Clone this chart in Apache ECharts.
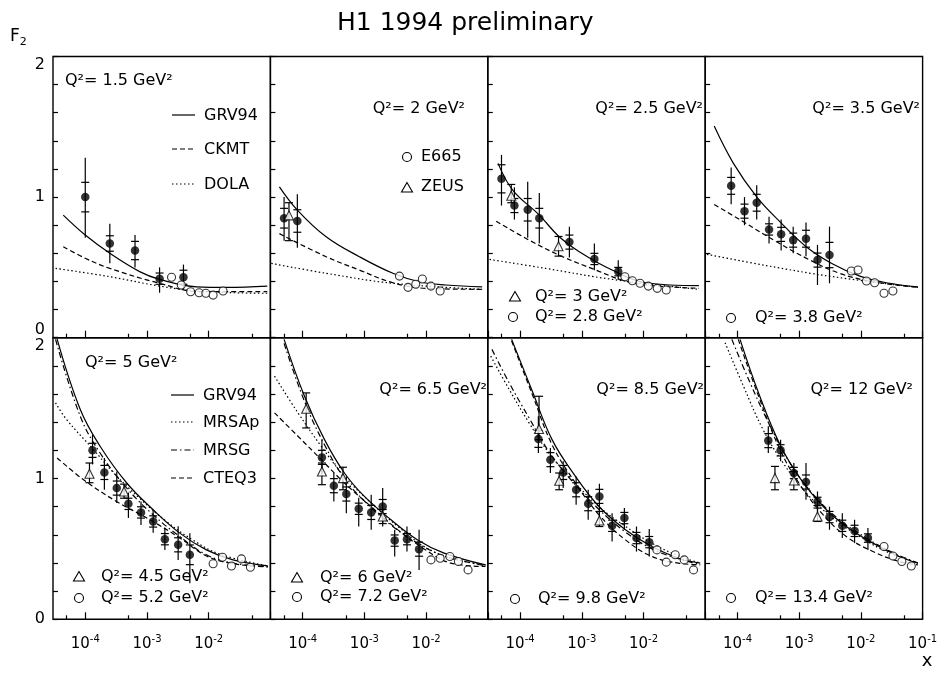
<!DOCTYPE html>
<html>
<head>
<meta charset="utf-8">
<title>H1 1994 preliminary</title>
<script src="https://cdn.jsdelivr.net/npm/echarts@6/dist/echarts.min.js"></script>
<style>
  html, body { margin: 0; padding: 0; background: #fff; }
  #chart { width: 952px; height: 679px; }
</style>
</head>
<body>
<div id="chart"></div>
<script>
// ---- axis ticks ----
const decadeTicks = [1e-4, 1e-3, 1e-2, 1e-1];
const halfTicks = [5e-5, 5e-4, 5e-3, 5e-2];
const yLabelValues = [0, 1, 2];

// ---- panel labels ----
const q2Main = ['1.5', '2', '2.5', '3.5', '5', '6.5', '8.5', '12'];

// H1 points: [x, F2, lower end of total error, upper end, stat error]
const h1P1 = [[1.0e-4, 1.00, 0.71, 1.28, 0.105], [2.5e-4, 0.67, 0.53, 0.81, 0.055], [6.4e-4, 0.62, 0.50, 0.73, 0.065],
  [1.6e-3, 0.42, 0.32, 0.50, 0.04], [3.9e-3, 0.43, 0.34, 0.52, 0.05]];
const h1P2 = [[5.0e-5, 0.85, 0.69, 1.00, 0.07], [8.2e-5, 0.83, 0.64, 1.02, 0.08]];
const h1P3 = [[5.0e-5, 1.13, 0.94, 1.30, 0.10], [8.1e-5, 0.94, 0.84, 1.07, 0.05], [1.33e-4, 0.91, 0.71, 1.11, 0.08],
  [2.05e-4, 0.85, 0.67, 1.03, 0.07], [6.3e-4, 0.68, 0.57, 0.79, 0.05], [1.6e-3, 0.56, 0.48, 0.67, 0.04],
  [3.9e-3, 0.47, 0.41, 0.55, 0.03]];
const h1P4 = [[7.9e-5, 1.08, 0.95, 1.21, 0.06], [1.3e-4, 0.90, 0.80, 1.00, 0.05], [2.05e-4, 0.96, 0.84, 1.085, 0.06],
  [3.25e-4, 0.77, 0.67, 0.86, 0.04], [5.1e-4, 0.735, 0.62, 0.84, 0.05], [8.0e-4, 0.694, 0.60, 0.79, 0.05],
  [1.29e-3, 0.704, 0.58, 0.82, 0.06], [1.98e-3, 0.552, 0.375, 0.66, 0.05], [3.1e-3, 0.588, 0.387, 0.79, 0.09]];
const h1P5 = [[1.31e-4, 1.20, 1.10, 1.31, 0.05], [2.04e-4, 1.043, 0.92, 1.146, 0.05], [3.24e-4, 0.932, 0.826, 1.05, 0.05],
  [5.0e-4, 0.82, 0.72, 0.90, 0.04], [8.0e-4, 0.759, 0.67, 0.837, 0.04], [1.26e-3, 0.695, 0.614, 0.778, 0.04],
  [1.95e-3, 0.569, 0.493, 0.65, 0.04], [3.2e-3, 0.529, 0.422, 0.66, 0.05], [4.95e-3, 0.458, 0.256, 0.612, 0.07]];
const h1P6 = [[2.05e-4, 1.15, 1.039, 1.276, 0.05], [3.2e-4, 0.949, 0.837, 1.039, 0.05], [5.1e-4, 0.89, 0.754, 1.015, 0.05],
  [8.1e-4, 0.785, 0.659, 0.863, 0.04], [1.29e-3, 0.759, 0.636, 0.885, 0.05], [1.98e-3, 0.801, 0.659, 0.932, 0.05],
  [3.1e-3, 0.559, 0.446, 0.636, 0.04], [4.9e-3, 0.569, 0.481, 0.659, 0.04], [7.7e-3, 0.498, 0.351, 0.636, 0.05]];
const h1P7 = [[1.98e-4, 1.281, 1.181, 1.442, 0.06], [3.1e-4, 1.134, 1.039, 1.217, 0.05], [5.0e-4, 1.043, 0.932, 1.122, 0.05],
  [8.1e-4, 0.92, 0.814, 1.015, 0.05], [1.27e-3, 0.821, 0.707, 0.92, 0.05], [1.93e-3, 0.873, 0.754, 0.963, 0.05],
  [3.1e-3, 0.664, 0.552, 0.754, 0.04], [4.9e-3, 0.719, 0.636, 0.79, 0.04], [7.7e-3, 0.577, 0.481, 0.659, 0.04],
  [1.24e-2, 0.548, 0.446, 0.641, 0.04]];
const h1P8 = [[3.16e-4, 1.269, 1.181, 1.371, 0.05], [5.0e-4, 1.20, 1.122, 1.276, 0.04], [8.2e-4, 1.039, 0.956, 1.11, 0.04],
  [1.29e-3, 0.975, 0.849, 1.11, 0.05], [1.98e-3, 0.837, 0.766, 0.908, 0.03], [3.1e-3, 0.726, 0.636, 0.80, 0.04],
  [5.0e-3, 0.664, 0.577, 0.754, 0.04], [7.9e-3, 0.628, 0.541, 0.707, 0.04], [1.3e-2, 0.577, 0.493, 0.648, 0.03]];

// ZEUS points: [x, F2, lower end, upper end]
const zeusP2 = [[6.0e-5, 0.87, 0.69, 0.96]];
const zeusP3 = [[7.2e-5, 1.01, 0.96, 1.09], [4.2e-4, 0.65, 0.58, 0.72]];
const zeusP5 = [[1.17e-4, 1.034, 0.97, 1.11], [4.25e-4, 0.908, 0.86, 0.96]];
const zeusP6 = [[1.14e-4, 1.495, 1.359, 1.608], [2.05e-4, 1.05, 0.956, 1.11], [4.5e-4, 1.003, 0.92, 1.08], [1.98e-3, 0.73, 0.68, 0.78]];
const zeusP7 = [[2.03e-4, 1.352, 1.276, 1.584], [4.3e-4, 0.984, 0.92, 1.039], [1.93e-3, 0.702, 0.659, 0.766]];
const zeusP8 = [[4.05e-4, 1.003, 0.92, 1.086], [8.2e-4, 0.986, 0.92, 1.05], [1.98e-3, 0.73, 0.695, 0.79]];

// E665 points: [x, F2]
const e665P1 = [[2.5e-3, 0.43], [3.6e-3, 0.375], [5.1e-3, 0.327], [7.0e-3, 0.32], [9.0e-3, 0.316], [1.18e-2, 0.303], [1.71e-2, 0.332]];
const e665P2 = [[3.7e-3, 0.438], [5.1e-3, 0.358], [6.8e-3, 0.38], [8.7e-3, 0.417], [1.2e-2, 0.367], [1.69e-2, 0.332]];
const e665P3 = [[5.0e-3, 0.434], [6.6e-3, 0.405], [8.8e-3, 0.387], [1.2e-2, 0.367], [1.67e-2, 0.351], [2.34e-2, 0.339]];
const e665P4 = [[7.0e-3, 0.474], [9.0e-3, 0.481], [1.23e-2, 0.403], [1.67e-2, 0.391], [2.37e-2, 0.316], [3.3e-2, 0.332]];
const e665P5 = [[1.18e-2, 0.394], [1.67e-2, 0.441], [2.34e-2, 0.379], [3.39e-2, 0.429], [4.74e-2, 0.37]];
const e665P6 = [[1.2e-2, 0.422], [1.69e-2, 0.434], [2.43e-2, 0.446], [3.34e-2, 0.41], [4.79e-2, 0.351]];
const e665P7 = [[1.65e-2, 0.493], [2.34e-2, 0.406], [3.27e-2, 0.458], [4.57e-2, 0.422], [6.47e-2, 0.351]];
const e665P8 = [[2.37e-2, 0.517], [3.31e-2, 0.45], [4.61e-2, 0.41], [6.56e-2, 0.379]];

// model curves, top row
const grvP1 = [[4.4e-5, 0.872], [1.0e-4, 0.73], [2.5e-4, 0.60], [7.6e-4, 0.47], [1.6e-3, 0.415], [6.4e-3, 0.362], [2.0e-2, 0.358], [8.9e-2, 0.367]];
const ckmtP1 = [[4.4e-5, 0.647], [1.0e-4, 0.565], [2.5e-4, 0.493], [1.6e-3, 0.387], [7.2e-3, 0.327], [8.9e-2, 0.327]];
const dolaP1 = [[3.3e-5, 0.493], [2.5e-4, 0.434], [1.6e-3, 0.367], [7.2e-3, 0.33], [8.9e-2, 0.316]];
const grvP2 = [[4.2e-5, 1.073], [8.2e-5, 0.908], [2.4e-4, 0.718], [8.3e-4, 0.576], [2.9e-3, 0.458], [7.8e-3, 0.398], [2.1e-2, 0.375], [8.1e-2, 0.362]];
const ckmtP2 = [[4.2e-5, 0.74], [2.4e-4, 0.576], [8.3e-4, 0.481], [2.9e-3, 0.391], [1.0e-2, 0.351], [8.1e-2, 0.344]];
const dolaP2 = [[3.1e-5, 0.529], [2.4e-4, 0.458], [2.9e-3, 0.387], [8.1e-2, 0.344]];
const grvP3 = [[4.4e-5, 1.24], [7.6e-5, 1.05], [2.05e-4, 0.872], [4.3e-4, 0.718], [9.1e-4, 0.611], [3.1e-3, 0.481], [1.09e-2, 0.391], [7.9e-2, 0.37]];
const ckmtP3 = [[4.1e-5, 0.829], [1.4e-4, 0.694], [4.9e-4, 0.576], [1.7e-3, 0.481], [4.5e-3, 0.41], [1.09e-2, 0.375], [7.9e-2, 0.351]];
const dolaP3 = [[3.2e-5, 0.557], [2.6e-4, 0.493], [3.1e-3, 0.415], [7.9e-2, 0.344]];
const grvP4 = [[4.2e-5, 1.505], [8.6e-5, 1.24], [2.05e-4, 1.002], [4.9e-4, 0.824], [1.3e-3, 0.647], [3.5e-3, 0.524], [9.6e-3, 0.438], [2.58e-2, 0.391], [8.4e-2, 0.362]];
const ckmtP4 = [[4.2e-5, 0.948], [1.25e-4, 0.824], [4.3e-4, 0.682], [1.5e-3, 0.552], [4.5e-3, 0.458], [1.57e-2, 0.398], [8.4e-2, 0.358]];
const dolaP4 = [[3.2e-5, 0.593], [3.0e-4, 0.512], [3.5e-3, 0.434], [8.4e-2, 0.358]];

// model curves, bottom row
const grvP5 = [[3.5e-5, 1.99], [8.3e-5, 1.49], [1.74e-4, 1.229], [4.7e-4, 0.968], [1.26e-3, 0.778], [3.4e-3, 0.612], [9.2e-3, 0.493], [2.48e-2, 0.422], [9.1e-2, 0.379]];
const mrsapP5 = [[3.3e-5, 1.537], [5.0e-5, 1.418], [1.36e-4, 1.205], [2.9e-4, 1.039], [7.7e-4, 0.857], [2.1e-3, 0.693], [5.6e-3, 0.562], [1.51e-2, 0.463], [9.1e-2, 0.379]];
const mrsgP5 = [[3.3e-5, 1.988], [8.3e-5, 1.442], [1.74e-4, 1.181], [4.7e-4, 0.932], [1.26e-3, 0.742], [3.4e-3, 0.588], [9.2e-3, 0.458], [2.48e-2, 0.399], [9.1e-2, 0.374]];
const cteqP5 = [[3.5e-5, 1.146], [9.4e-5, 0.991], [3.2e-4, 0.837], [1.12e-3, 0.707], [3.4e-3, 0.578], [9.2e-3, 0.45], [2.48e-2, 0.395], [9.1e-2, 0.372]];
const grvP6 = [[5.0e-5, 1.988], [1.07e-4, 1.584], [2.26e-4, 1.276], [4.75e-4, 1.039], [1.0e-3, 0.873], [2.7e-3, 0.707], [7.3e-3, 0.564], [1.96e-2, 0.47], [9.2e-2, 0.386]];
const mrsapP6 = [[3.5e-5, 1.727], [8.4e-5, 1.466], [2.0e-4, 1.229], [4.75e-4, 1.015], [1.29e-3, 0.826], [3.5e-3, 0.659], [9.3e-3, 0.517], [2.52e-2, 0.434], [9.2e-2, 0.386]];
const mrsgP6 = [[5.0e-5, 1.96], [1.07e-4, 1.548], [2.26e-4, 1.24], [4.75e-4, 1.0], [1.0e-3, 0.84], [2.7e-3, 0.67], [7.3e-3, 0.54], [1.96e-2, 0.45], [9.2e-2, 0.38]];
const cteqP6 = [[3.5e-5, 1.466], [8.4e-5, 1.30], [2.0e-4, 1.134], [4.75e-4, 0.968], [1.29e-3, 0.80], [3.5e-3, 0.635], [9.3e-3, 0.50], [2.52e-2, 0.399], [9.2e-2, 0.375]];
const grvP7 = [[7.3e-5, 1.988], [1.58e-4, 1.62], [3.3e-4, 1.276], [7.9e-4, 1.015], [1.9e-3, 0.801], [5.1e-3, 0.636], [1.37e-2, 0.517], [3.7e-2, 0.434], [8.3e-2, 0.399]];
const mrsapP7 = [[3.35e-5, 1.869], [6.65e-5, 1.633], [1.4e-4, 1.395], [2.94e-4, 1.181], [7.0e-4, 0.991], [1.9e-3, 0.80], [5.1e-3, 0.66], [1.37e-2, 0.54], [3.7e-2, 0.45], [8.3e-2, 0.40]];
const mrsgP7 = [[3.5e-5, 1.917], [6.65e-5, 1.68], [1.4e-4, 1.43], [2.94e-4, 1.19], [7.0e-4, 0.98], [1.9e-3, 0.78], [5.1e-3, 0.62], [1.37e-2, 0.50], [3.7e-2, 0.43], [8.3e-2, 0.39]];
const cteqP7 = [[7.3e-5, 1.976], [1.58e-4, 1.597], [3.3e-4, 1.24], [7.9e-4, 0.968], [1.9e-3, 0.742], [5.1e-3, 0.564], [1.37e-2, 0.446], [3.7e-2, 0.399], [8.3e-2, 0.387]];
const grvP8 = [[1.1e-4, 1.988], [2.3e-4, 1.584], [4.9e-4, 1.24], [1.03e-3, 1.003], [2.45e-3, 0.801], [5.8e-3, 0.659], [1.57e-2, 0.541], [4.2e-2, 0.446], [8.4e-2, 0.399]];
const mrsapP8 = [[6.3e-5, 1.964], [1.25e-4, 1.656], [2.6e-4, 1.347], [5.5e-4, 1.11], [1.3e-3, 0.897], [3.5e-3, 0.719], [9.6e-3, 0.588], [2.58e-2, 0.481], [8.4e-2, 0.40]];
const mrsgP8 = [[8.1e-5, 1.988], [1.6e-4, 1.68], [3.4e-4, 1.371], [7.1e-4, 1.11], [1.7e-3, 0.885], [4.5e-3, 0.707], [1.23e-2, 0.577], [3.3e-2, 0.474], [8.4e-2, 0.40]];
const cteqP8 = [[1.03e-4, 1.988], [2.2e-4, 1.584], [4.9e-4, 1.205], [1.03e-3, 0.956], [2.45e-3, 0.742], [5.8e-3, 0.588], [1.57e-2, 0.481], [4.2e-2, 0.41], [8.4e-2, 0.387]];

const FONT = '"DejaVu Sans", "Liberation Sans", sans-serif';
const DASH = { solid: 'solid', dashed: [5, 3], dotted: [1.5, 2.5], dashdot: [6, 3, 1.5, 3] };

const panels = [
  { h1: h1P1, zeus: null, e665: e665P1, curves: [[grvP1, 'solid'], [ckmtP1, 'dashed'], [dolaP1, 'dotted']] },
  { h1: h1P2, zeus: zeusP2, e665: e665P2, curves: [[grvP2, 'solid'], [ckmtP2, 'dashed'], [dolaP2, 'dotted']] },
  { h1: h1P3, zeus: zeusP3, e665: e665P3, curves: [[grvP3, 'solid'], [ckmtP3, 'dashed'], [dolaP3, 'dotted']] },
  { h1: h1P4, zeus: null, e665: e665P4, curves: [[grvP4, 'solid'], [ckmtP4, 'dashed'], [dolaP4, 'dotted']] },
  { h1: h1P5, zeus: zeusP5, e665: e665P5, curves: [[grvP5, 'solid'], [mrsapP5, 'dotted'], [mrsgP5, 'dashdot'], [cteqP5, 'dashed']] },
  { h1: h1P6, zeus: zeusP6, e665: e665P6, curves: [[grvP6, 'solid'], [mrsapP6, 'dotted'], [mrsgP6, 'dashdot'], [cteqP6, 'dashed']] },
  { h1: h1P7, zeus: zeusP7, e665: e665P7, curves: [[grvP7, 'solid'], [mrsapP7, 'dotted'], [mrsgP7, 'dashdot'], [cteqP7, 'dashed']] },
  { h1: h1P8, zeus: zeusP8, e665: e665P8, curves: [[grvP8, 'solid'], [mrsapP8, 'dotted'], [mrsgP8, 'dashdot'], [cteqP8, 'dashed']] },
];

const colLeft = [53, 270.4, 487.8, 705.2];
const panelW = 217.4;
const rowTop = [56.5, 337.7];
const rowH = [281.2, 281.6];

const grids = [], xAxes = [], yAxes = [], series = [];

function errorBars(data, xi, yi, withStat) {
  return {
    type: 'custom', xAxisIndex: xi, yAxisIndex: yi, data: data, z: 3, silent: true,
    encode: { x: 0, y: 1 },
    renderItem(params, api) {
      const x = api.value(0), y = api.value(1);
      const lo = api.coord([x, api.value(2)]);
      const hi = api.coord([x, api.value(3)]);
      const st = { stroke: '#000', lineWidth: 1.2 };
      const children = [{ type: 'line', shape: { x1: lo[0], y1: lo[1], x2: hi[0], y2: hi[1] }, style: st }];
      const caps = withStat ? [y - api.value(4), y + api.value(4)] : [api.value(2), api.value(3)];
      caps.forEach(v => {
        const c = api.coord([x, v]);
        children.push({ type: 'line', shape: { x1: c[0] - 4, y1: c[1], x2: c[0] + 4, y2: c[1] }, style: st });
      });
      return { type: 'group', children };
    }
  };
}

panels.forEach((p, i) => {
  const row = i < 4 ? 0 : 1;
  const col = i % 4;
  grids.push({
    left: colLeft[col], top: rowTop[row], width: panelW, height: rowH[row],
    show: true, borderColor: '#000', borderWidth: 1.4, backgroundColor: 'transparent'
  });
  const xi = xAxes.length;
  xAxes.push({
    gridIndex: i, type: 'log', logBase: 10, min: 3e-5, max: 0.1, position: 'bottom',
    axisLine: { show: false },
    axisTick: { show: true, inside: true, length: 7, customValues: decadeTicks, lineStyle: { color: '#000', width: 1.2 } },
    axisLabel: {
      show: row === 1,
      customValues: col === 3 ? decadeTicks : decadeTicks.slice(0, 3),
      margin: 15,
      formatter: v => '{b|10}{s|' + Math.round(Math.log10(v)) + '}',
      rich: {
        b: { fontSize: 15, fontFamily: FONT, color: '#000', lineHeight: 17, verticalAlign: 'bottom' },
        s: { fontSize: 10, fontFamily: FONT, color: '#000', lineHeight: 10, verticalAlign: 'top' }
      }
    },
    splitLine: { show: false }
  });
  xAxes.push({
    gridIndex: i, type: 'log', logBase: 10, min: 3e-5, max: 0.1, position: 'bottom',
    axisLine: { show: false },
    axisTick: { show: true, inside: true, length: 4, customValues: halfTicks, lineStyle: { color: '#000', width: 1.2 } },
    axisLabel: { show: false },
    splitLine: { show: false }
  });
  yAxes.push({
    gridIndex: i, type: 'value', min: 0, max: 2, interval: 0.2,
    axisLine: { show: false },
    axisTick: { show: true, inside: true, length: 5, lineStyle: { color: '#000', width: 1.2 } },
    axisLabel: {
      show: col === 0, customValues: yLabelValues, margin: 8,
      fontSize: 16, fontFamily: FONT, color: '#000',
      verticalAlignMaxLabel: 'top',
      verticalAlignMinLabel: row === 0 ? 'bottom' : 'middle'
    },
    splitLine: { show: false }
  });

  p.curves.forEach(([data, style]) => {
    series.push({
      type: 'line', xAxisIndex: xi, yAxisIndex: i, data: data, z: 2, silent: true,
      smooth: 0.4, symbol: 'none', showSymbol: false,
      lineStyle: { color: '#000', width: 1.2, type: DASH[style] }
    });
  });
  series.push(errorBars(p.h1, xi, i, true));
  if (p.zeus) series.push(errorBars(p.zeus, xi, i, false));
  series.push({
    type: 'scatter', xAxisIndex: xi, yAxisIndex: i, z: 4, silent: true,
    data: p.h1.map(d => [d[0], d[1]]), symbol: 'circle', symbolSize: 8.5,
    itemStyle: { color: '#000' }
  });
  if (p.zeus) series.push({
    type: 'scatter', xAxisIndex: xi, yAxisIndex: i, z: 4, silent: true,
    data: p.zeus.map(d => [d[0], d[1]]), symbol: 'triangle', symbolSize: 9,
    itemStyle: { color: '#fff', borderColor: '#000', borderWidth: 1.1 }
  });
  series.push({
    type: 'scatter', xAxisIndex: xi, yAxisIndex: i, z: 4, silent: true,
    data: p.e665, symbol: 'circle', symbolSize: 8,
    itemStyle: { color: '#fff', borderColor: '#000', borderWidth: 1.1 }
  });
});

// ---- texts and legend keys ----
function txt(x, y, s, size, align) {
  return {
    type: 'text', x: x, y: y, z: 10, silent: true,
    style: {
      text: s, fontSize: size || 16, fontFamily: FONT, fill: '#000',
      align: align || 'left', textAlign: align || 'left', verticalAlign: 'middle', textVerticalAlign: 'middle'
    }
  };
}
function key(x, y, style) {
  return {
    type: 'line', z: 10, silent: true,
    shape: { x1: x, y1: y, x2: x + 23, y2: y },
    style: { stroke: '#000', lineWidth: 1.2, lineDash: style === 'solid' ? null : DASH[style] }
  };
}
function openCircle(x, y) {
  return { type: 'circle', z: 10, silent: true, shape: { cx: x, cy: y, r: 4.5 }, style: { fill: '#fff', stroke: '#000', lineWidth: 1.1 } };
}
function openTriangle(x, y) {
  return { type: 'polygon', z: 10, silent: true, shape: { points: [[x, y - 5.5], [x - 5.5, y + 4], [x + 5.5, y + 4]] }, style: { fill: '#fff', stroke: '#000', lineWidth: 1.1 } };
}
const q2 = v => 'Q\u00b2= ' + v + ' GeV\u00b2';

const graphics = [
  txt(337, 23, 'H1 1994 preliminary', 25),
  {
    type: 'text', x: 10, y: 38, z: 10, silent: true,
    style: {
      text: '{f|F}{s|2}', verticalAlign: 'middle', textVerticalAlign: 'middle',
      rich: {
        f: { fontSize: 17, fontFamily: FONT, fill: '#000', lineHeight: 20, verticalAlign: 'top' },
        s: { fontSize: 11, fontFamily: FONT, fill: '#000', lineHeight: 20, verticalAlign: 'bottom' }
      }
    }
  },
  txt(927, 661, 'x', 18, 'center'),
  // Q^2 of each panel
  txt(65, 81, q2(q2Main[0])),
  txt(465, 109, q2(q2Main[1]), 16, 'right'),
  txt(703, 109, q2(q2Main[2]), 16, 'right'),
  txt(920, 109, q2(q2Main[3]), 16, 'right'),
  txt(85, 363, q2(q2Main[4])),
  txt(487, 390, q2(q2Main[5]), 16, 'right'),
  txt(704, 390, q2(q2Main[6]), 16, 'right'),
  txt(913, 390, q2(q2Main[7]), 16, 'right'),
  // top-row model legend
  key(172, 115, 'solid'), txt(204, 116, 'GRV94'),
  key(172, 149, 'dashed'), txt(204, 150, 'CKMT'),
  key(172, 184, 'dotted'), txt(204, 185, 'DOLA'),
  // bottom-row model legend
  key(171, 395, 'solid'), txt(203, 396, 'GRV94'),
  key(171, 422, 'dotted'), txt(203, 423, 'MRSAp'),
  key(171, 450, 'dashdot'), txt(203, 451, 'MRSG'),
  key(171, 478, 'dashed'), txt(203, 479, 'CTEQ3'),
  // experiment legend
  openCircle(407, 157), txt(421, 157, 'E665'),
  openTriangle(407, 188), txt(421, 187, 'ZEUS'),
  // neighbouring Q^2 markers
  openTriangle(515, 297), txt(535, 297, q2('3')),
  openCircle(513, 317), txt(535, 317, q2('2.8')),
  openCircle(731, 318), txt(755, 318, q2('3.8')),
  openTriangle(79, 577), txt(101, 577, q2('4.5')),
  openCircle(79, 598), txt(101, 598, q2('5.2')),
  openTriangle(297, 578), txt(320, 578, q2('6')),
  openCircle(297, 597), txt(320, 597, q2('7.2')),
  openCircle(515, 599), txt(538, 599, q2('9.8')),
  openCircle(731, 598), txt(755, 598, q2('13.4')),
];

const chart = echarts.init(document.getElementById('chart'), null, { renderer: 'canvas' });
chart.setOption({
  animation: false,
  backgroundColor: '#fff',
  grid: grids,
  xAxis: xAxes,
  yAxis: yAxes,
  series: series,
  graphic: graphics
});
</script>
</body>
</html>
